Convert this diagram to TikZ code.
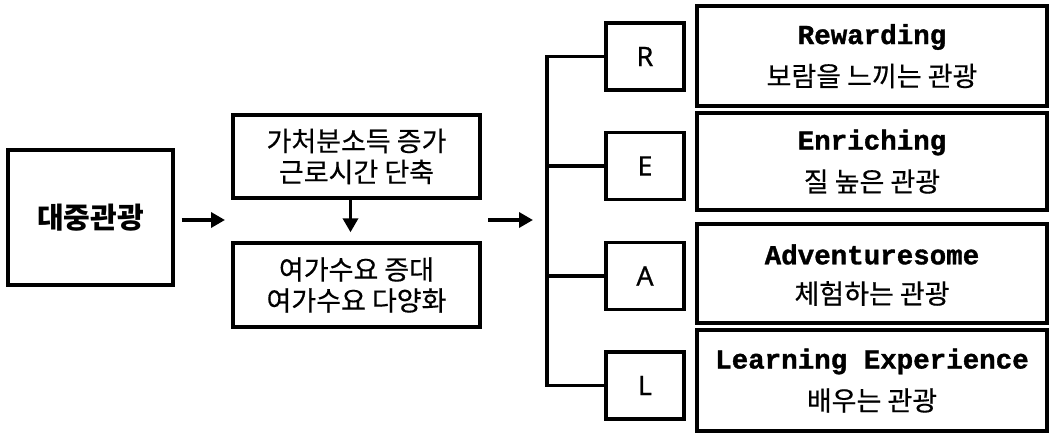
\documentclass[tikz,border=0pt]{standalone}
\usepackage{fontspec}
\setmainfont{Noto Sans CJK KR}
\newfontfamily\krfont[FakeBold=0.4]{Noto Sans CJK KR}
\newfontfamily\krbold{Noto Sans CJK KR}
\newfontfamily\latfont[FakeBold=0.6]{Noto Sans}
\newfontfamily\monofont[BoldFeatures={FakeBold=1.2}]{Liberation Mono}
\usetikzlibrary{arrows.meta}
\begin{document}
\begin{tikzpicture}[x=1pt,y=-1pt,
  box/.style={draw, line width=3.4pt, inner sep=0pt, align=center},
  link/.style={line width=3.4pt},
  arr/.style={line width=3.4pt, -{Triangle[length=14pt,width=15pt]}},
  kr/.style={font=\krfont\fontsize{27}{30}\selectfont},
  en/.style={font=\monofont\bfseries\fontsize{27.5}{30}\selectfont}
]
\useasboundingbox (0,0) rectangle (1050,433);
% left box
\node[box, minimum width=165pt, minimum height=135pt, font=\krbold\bfseries\fontsize{29}{32}\selectfont] (mass) at (90.5,217.5) {대중관광};
% middle boxes
\node[box, minimum width=247pt, minimum height=83pt, font=\krfont\fontsize{27}{31}\selectfont] (cause) at (356.5,156.5) {가처분소득 증가\\근로시간 단축};
\node[box, minimum width=247pt, minimum height=84pt, font=\krfont\fontsize{27}{31}\selectfont] (demand) at (356.5,285) {여가수요 증대\\여가수요 다양화};
% arrows
\coordinate (a1e) at (225,220);
\draw[arr] ([xshift=7pt]mass.east |- a1e) -- (a1e);
\draw[arr] ([xshift=-6pt]cause.south) -- ([xshift=-6pt,yshift=9pt]demand.north);
\coordinate (a2s) at (488,220);
\coordinate (a2e) at (533,220);
\draw[arr] (a2s) -- (a2e);
% letter boxes
\tikzset{letter/.style={box, minimum width=78pt, minimum height=67pt, font=\latfont\fontsize{27}{30}\selectfont}}
\node[letter] (R) at (645,56.5) {R};
\node[letter] (E) at (645,166) {E};
\node[letter] (A) at (645,276) {A};
\node[letter] (L) at (645,385.5) {L};
% bracket
\coordinate (btop) at (547,56.5);
\coordinate (bbot) at (547,385.5);
\draw[link, line join=miter] (R.west) -- (btop) -- (bbot) -- (L.west);
\draw[link] (E.west) -- (E.west -| btop);
\draw[link] (A.west) -- (A.west -| btop);
% right boxes
\tikzset{desc/.style={box, minimum width=350pt}}
\node[desc, minimum height=100pt] (dR) at (872,56) {};
\node[desc, minimum height=97pt] (dE) at (872,161.5) {};
\node[desc, minimum height=99pt] (dA) at (872,273.5) {};
\node[desc, minimum height=101pt] (dL) at (872,380.5) {};
\foreach \n/\e/\k in {dR/Rewarding/보람을 느끼는 관광, dE/Enriching/질 높은 관광, dA/Adventuresome/체험하는 관광, dL/Learning Experience/배우는 관광}{
  \node[en] (\n-en) at ([yshift=19pt]\n.center) {\e};
  \node[kr] (\n-kr) at ([yshift=-20pt]\n.center) {\k};
}
\end{tikzpicture}
\end{document}
